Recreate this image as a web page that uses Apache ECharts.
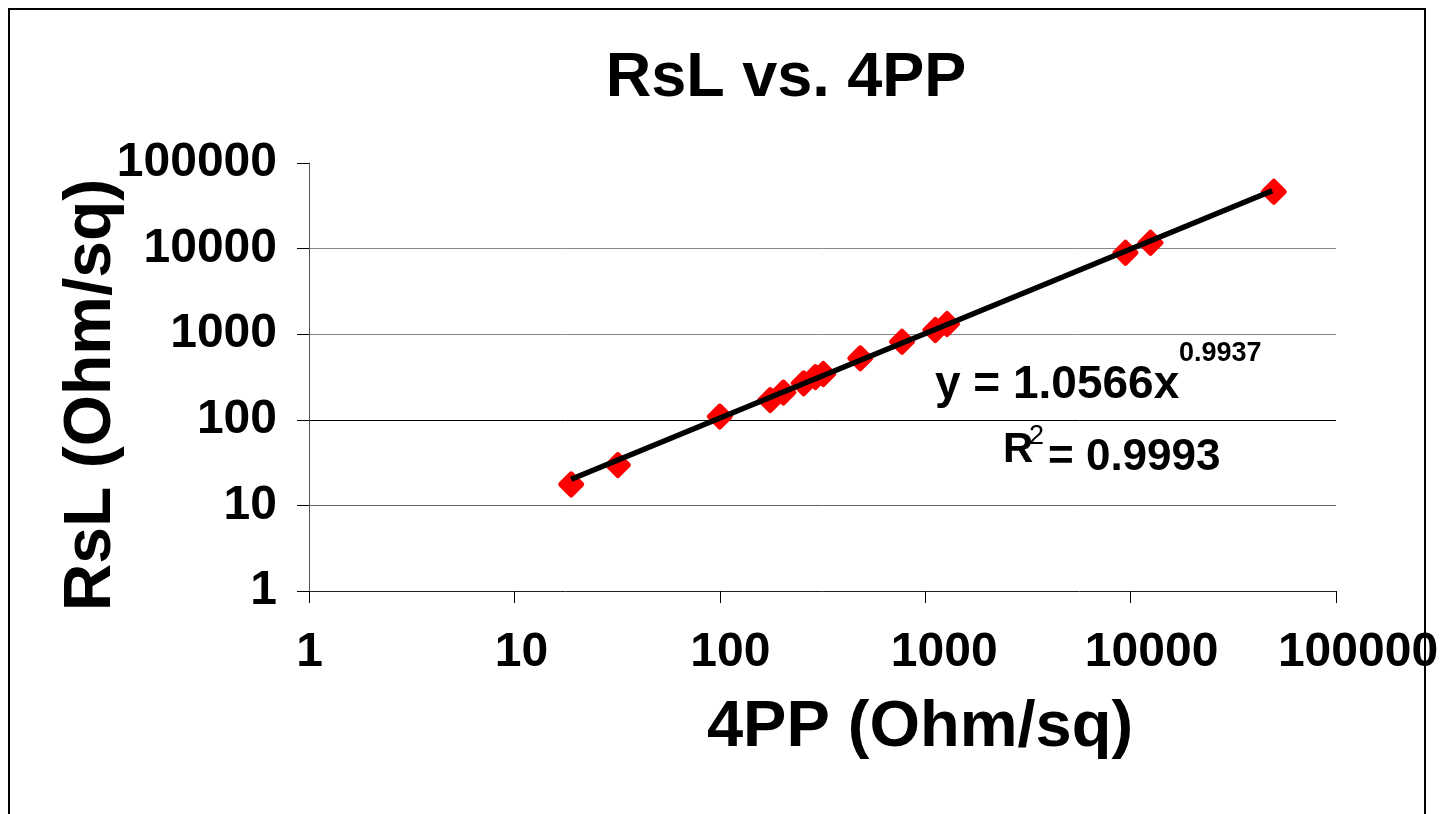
<!DOCTYPE html>
<html>
<head>
<meta charset="utf-8">
<script src="https://cdn.jsdelivr.net/npm/echarts@6/dist/echarts.min.js"></script>
<style>
html,body{margin:0;padding:0;background:#fff;}
#chart{width:1442px;height:814px;}
</style>
</head>
<body>
<div id="chart"></div>
<script>
// ---- data ----
const fourPP = [18.9, 31.9, 100, 176, 204, 256, 292, 319, 483, 771, 1120, 1277, 9440, 12500, 49800];
const rsL    = [17.6, 29.6, 109, 170, 208, 267, 316, 343, 523, 817, 1120, 1316, 8950, 11700, 46200];
const blueX = [97];
const blueY = [95];
const trendX = [18.9, 48900];
const trendY = [20.2, 47500];
const titleText = 'RsL vs. 4PP';
const xTitle = '4PP (Ohm/sq)';
const yTitle = 'RsL (Ohm/sq)';
const eqMain = 'y = 1.0566x';
const eqExp = '0.9937';
const r2Label = 'R';
const r2Sup = '2';
const r2Value = '= 0.9993';

const FONT = '"Liberation Sans", Arial, sans-serif';
const chart = echarts.init(document.getElementById('chart'));

const xOffsets = {1: 1, 2: 14, 3: 21, 4: 38, 5: 42, 6: 44};
const xRich = {};
Object.keys(xOffsets).forEach(k => {
  xRich['o' + k] = {padding: [0, 0, 0, xOffsets[k]], fontSize: 48, fontWeight: 'bold', fontFamily: FONT, color: '#000'};
});

function txt(text, x, y, size, opts) {
  opts = opts || {};
  return {
    type: 'text', x: x, y: y, rotation: opts.rotation || 0, z: 100,
    style: {
      text: text,
      font: (opts.weight || 'bold') + ' ' + size + 'px ' + FONT,
      fill: '#000',
      textAlign: opts.align || 'left',
      textVerticalAlign: 'middle'
    }
  };
}

const option = {
  backgroundColor: '#fff',
  animation: false,
  grid: {left: 309, right: 106, top: 163, bottom: 223, containLabel: false},
  xAxis: {
    type: 'log', logBase: 10, min: 1, max: 100000,
    axisLine: {show: true, lineStyle: {color: '#222', width: 1}},
    axisTick: {show: true, inside: false, length: 12, lineStyle: {color: '#000'}},
    splitLine: {show: false},
    minorTick: {show: false},
    axisLabel: {
      margin: 38,
      fontSize: 48, fontWeight: 'bold', fontFamily: FONT, color: '#000',
      formatter: function (v) { const s = String(Math.round(v)); return '{o' + s.length + '|' + s + '}'; },
      rich: xRich
    }
  },
  yAxis: {
    type: 'log', logBase: 10, min: 1, max: 100000,
    axisLine: {show: true, lineStyle: {color: '#555', width: 1}},
    axisTick: {show: true, inside: false, length: 12, lineStyle: {color: '#000'}},
    splitLine: {show: true, showMinLine: false, showMaxLine: false,
      lineStyle: {color: ['#666', '#000', '#888', '#888'], width: 1}},
    axisLabel: {
      margin: 32,
      fontSize: 48, fontWeight: 'bold', fontFamily: FONT, color: '#000',
      formatter: function (v) { return String(Math.round(v)); }
    }
  },
  series: [
    {
      type: 'scatter', name: 'blue',
      data: blueX.map((x, i) => [x, blueY[i]]),
      symbol: 'diamond', symbolSize: 10,
      itemStyle: {color: '#000080', opacity: 1}, z: 1
    },
    {
      type: 'scatter', name: 'RsL',
      data: fourPP.map((x, i) => [x, rsL[i]]),
      symbol: 'diamond', symbolSize: 21,
      itemStyle: {color: '#ff0000', borderColor: '#ff0000', borderWidth: 5, borderJoin: 'round', opacity: 1},
      z: 2
    },
    {
      type: 'line', name: 'trend',
      data: trendX.map((x, i) => [x, trendY[i]]),
      showSymbol: false, symbol: 'none',
      lineStyle: {color: '#000', width: 5.5},
      z: 3
    }
  ],
  graphic: [
    {type: 'rect', shape: {x: 9, y: 9, width: 1416, height: 900}, style: {fill: 'none', stroke: '#000', lineWidth: 2}, z: 0, silent: true},
    txt(titleText, 786, 79, 63, {align: 'center'}),
    txt(xTitle, 920, 728, 65, {align: 'center'}),
    txt(yTitle, 92, 395, 66, {align: 'center', rotation: Math.PI / 2}),
    txt(eqMain, 935, 385, 46),
    txt(eqExp, 1179, 354, 27),
    txt(r2Label, 1003, 450, 42),
    txt(r2Sup, 1029, 437, 27, {weight: 'normal'}),
    txt(r2Value, 1048, 458, 44)
  ]
};
chart.setOption(option);
</script>
</body>
</html>
